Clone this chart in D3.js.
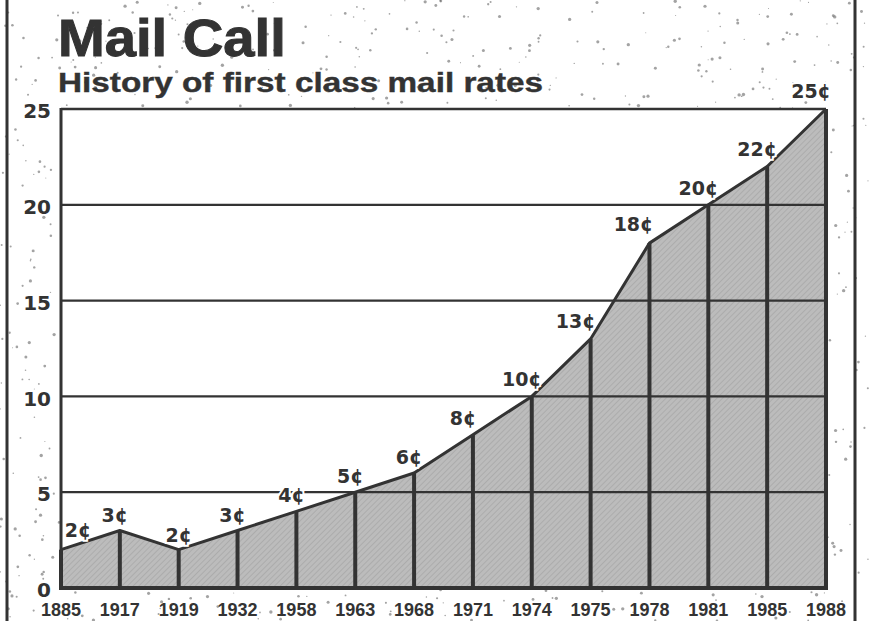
<!DOCTYPE html>
<html>
<head>
<meta charset="utf-8">
<script src="https://cdn.jsdelivr.net/npm/d3@7"></script>
<style>
  html, body { margin: 0; padding: 0; background: #fff; }
  svg { display: block; }
</style>
</head>
<body>
<div id="chart"></div>
<script>
// first class mail rates, in cents
var years = ["1885", "1917", "1919", "1932", "1958", "1963", "1968", "1971", "1974", "1975", "1978", "1981", "1985", "1988"];
var rates = [2, 3, 2, 3, 4, 5, 6, 8, 10, 13, 18, 20, 22, 25];
var yTicks = [0, 5, 10, 15, 20, 25];

var width = 869;
var height = 621;
var ink = "#333";
var sans = "'Liberation Sans', Arial, sans-serif";
var wide = "'DejaVu Sans', sans-serif";

var margin = {top: 109, right: 43, bottom: 33, left: 61};

var x = d3.scalePoint()
    .domain(years)
    .range([margin.left, width - margin.right]);

var y = d3.scaleLinear()
    .domain([0, 25])
    .range([height - margin.bottom, margin.top]);

var data = years.map((d, i) => ({year: d, rate: rates[i], rise: i ? rates[i] - rates[i - 1] : 0}));

var svg = d3.select("#chart")
  .append("svg")
  .attr("width", width)
  .attr("height", height)
  .attr("font-weight", "bold");

// hatched grey fill, like the newsprint screen
var defs = svg.append("defs");
var pat = defs.append("pattern")
    .attr("id", "hatch")
    .attr("patternUnits", "userSpaceOnUse")
    .attr("width", 4)
    .attr("height", 4)
    .attr("patternTransform", "rotate(45)");
pat.append("rect").attr("width", 4).attr("height", 4).attr("fill", "#bcbcbc");
pat.append("line").attr("x1", 0).attr("y1", 0).attr("x2", 0).attr("y2", 4)
    .attr("stroke", "#9c9c9c").attr("stroke-width", 1);

// speckled paper (deterministic texture)
var seed = 7;
function rnd() { seed = (seed * 16807) % 2147483647; return seed / 2147483647; }
var specks = [];
for (let i = 0; i < 1400; i++) specks.push([rnd() * width, rnd() * height, rnd()]);
svg.append("g")
  .selectAll("circle")
  .data(specks.filter(d => !(d[0] > margin.left && d[0] < width - margin.right && d[1] > margin.top && d[1] < height - margin.bottom)))
  .join("circle")
    .attr("cx", d => d[0])
    .attr("cy", d => d[1])
    .attr("r", d => 0.5 + d[2] * 1.2)
    .attr("fill", "#666")
    .attr("opacity", 0.6);

// outer frame
svg.append("line").attr("x1", 7).attr("x2", 7).attr("y1", 0).attr("y2", height)
    .attr("stroke", ink).attr("stroke-width", 3);
svg.append("line").attr("x1", 855).attr("x2", 855).attr("y1", 0).attr("y2", height)
    .attr("stroke", ink).attr("stroke-width", 3);

// white plot background
svg.append("rect")
    .attr("x", x.range()[0])
    .attr("y", y(25))
    .attr("width", x.range()[1] - x.range()[0])
    .attr("height", y(0) - y(25))
    .attr("fill", "#fff");

// title, slightly stretched like the print
svg.append("text")
    .attr("transform", "translate(58,56) scale(1.08,1)")
    .attr("font-family", sans)
    .attr("font-size", 52)
    .attr("fill", ink)
    .attr("stroke", ink)
    .attr("stroke-width", 1)
    .text("Mail Call");
svg.append("text")
    .attr("transform", "translate(58,92) scale(1.19,1)")
    .attr("font-family", sans)
    .attr("font-size", 28)
    .attr("fill", ink)
    .attr("stroke", ink)
    .attr("stroke-width", 0.4)
    .text("History of first class mail rates");

// area
var area = d3.area()
    .x(d => x(d.year))
    .y0(y(0))
    .y1(d => y(d.rate));

svg.append("path")
    .datum(data)
    .attr("fill", "url(#hatch)")
    .attr("d", area);

// horizontal grid lines
svg.append("g")
  .selectAll("line")
  .data(yTicks.slice(1))
  .join("line")
    .attr("x1", x.range()[0])
    .attr("x2", x.range()[1])
    .attr("y1", d => y(d))
    .attr("y2", d => y(d))
    .attr("stroke", ink)
    .attr("stroke-width", d => d === 25 ? 2.5 : 2.2);

// vertical lines at each year, up to the rate
svg.append("g")
  .selectAll("line")
  .data(data)
  .join("line")
    .attr("x1", d => x(d.year))
    .attr("x2", d => x(d.year))
    .attr("y1", y(0))
    .attr("y2", d => y(d.rate))
    .attr("stroke", ink)
    .attr("stroke-width", 4);

// left edge of plot, baseline and top edge of area
svg.append("line")
    .attr("x1", x.range()[0]).attr("x2", x.range()[0])
    .attr("y1", y(0) + 2).attr("y2", y(25) - 1)
    .attr("stroke", ink).attr("stroke-width", 3);
svg.append("line")
    .attr("x1", x.range()[0] - 2).attr("x2", x.range()[1] + 2)
    .attr("y1", y(0)).attr("y2", y(0))
    .attr("stroke", ink).attr("stroke-width", 4);
svg.append("path")
    .datum(data)
    .attr("fill", "none")
    .attr("stroke", ink)
    .attr("stroke-width", 3)
    .attr("stroke-linejoin", "round")
    .attr("d", d3.line().x(d => x(d.year)).y(d => y(d.rate)));

// y tick labels
svg.append("g")
  .selectAll("text")
  .data(yTicks)
  .join("text")
    .attr("x", 51)
    .attr("y", d => y(d) + 2)
    .attr("dy", "0.36em")
    .attr("text-anchor", "end")
    .attr("font-family", wide)
    .attr("font-size", 20)
    .attr("fill", ink)
    .text(d => d);

// x tick labels along the bottom edge
svg.append("g")
  .selectAll("text")
  .data(years)
  .join("text")
    .attr("x", d => x(d))
    .attr("y", 616)
    .attr("text-anchor", "middle")
    .attr("font-family", sans)
    .attr("font-size", 18)
    .attr("fill", ink)
    .text(d => d);

// rate labels sit up and to the left of each point, further left on steep rises
svg.append("g")
  .selectAll("text")
  .data(data)
  .join("text")
    .attr("x", (d, i) => i === 0 ? x(d.year) + 17 : x(d.year) - Math.min(16, 5 * Math.max(0, d.rise)))
    .attr("y", (d, i) => y(d.rate) - (i === 0 ? 13 : 8 + Math.min(4, Math.max(0, d.rise))))
    .attr("text-anchor", "middle")
    .attr("font-family", wide)
    .attr("font-size", 19)
    .attr("fill", ink)
    .attr("paint-order", "stroke")
    .attr("stroke", "#fff")
    .attr("stroke-width", 4)
    .text(d => d.rate + "¢");
</script>
</body>
</html>
